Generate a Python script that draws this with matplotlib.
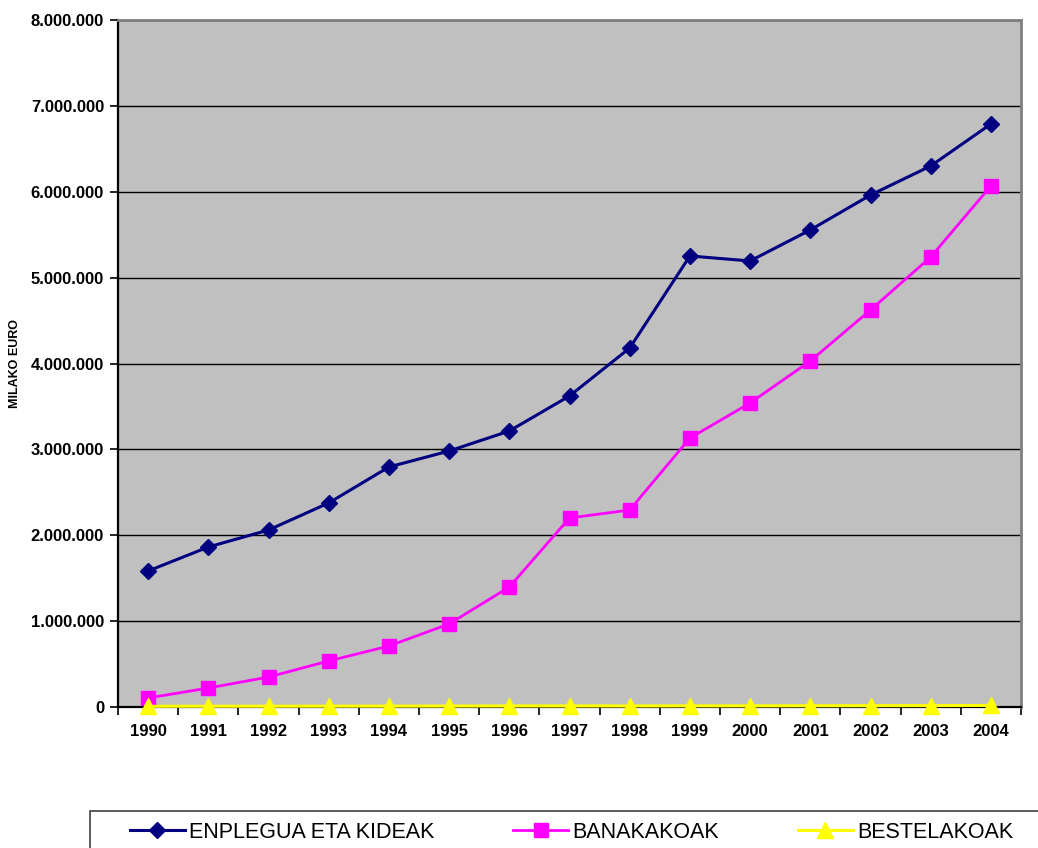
import matplotlib
matplotlib.use("Agg")
import matplotlib.pyplot as plt
from matplotlib.patches import Rectangle
from matplotlib.ticker import FixedLocator, FuncFormatter
from matplotlib.lines import Line2D

plt.rcParams['font.family'] = ['Liberation Sans', 'DejaVu Sans']

years = ["1990", "1991", "1992", "1993", "1994", "1995", "1996", "1997",
         "1998", "1999", "2000", "2001", "2002", "2003", "2004"]
enplegua = [1584000, 1863000, 2061000, 2376000, 2795000, 2981000, 3214000, 3622000,
            4180000, 5252000, 5194000, 5555000, 5962000, 6300000, 6789000]
banakakoak = [105000, 221000, 349000, 536000, 710000, 967000, 1397000, 2201000,
              2294000, 3132000, 3540000, 4029000, 4623000, 5240000, 6067000]
bestelakoak = [8000, 9000, 9000, 10000, 10000, 11000, 12000, 12000,
               12000, 13000, 13000, 14000, 15000, 16000, 18000]
series_names = ["ENPLEGUA ETA KIDEAK", "BANAKAKOAK", "BESTELAKOAK"]
y_ticks = [0, 1000000, 2000000, 3000000, 4000000, 5000000, 6000000, 7000000, 8000000]

W, H = 1038, 848
fig = plt.figure(figsize=(W / 100, H / 100), dpi=100)
ax = fig.add_axes([118 / W, 1 - 707 / H, (1021 - 118) / W, (707 - 20) / H])
ax.set_facecolor("#C0C0C0")

x = list(range(len(years)))
ax.plot(x, enplegua, color="#000080", lw=2.2, marker="D", ms=8, mfc="#000080",
        mec="#000080", label=series_names[0], zorder=4, clip_on=False)
ax.plot(x, banakakoak, color="#FF00FF", lw=2.0, marker="s", ms=10.5, mfc="#FF00FF",
        mec="#FF00FF", label=series_names[1], zorder=4, clip_on=False)
ax.plot(x, bestelakoak, color="#FFFF00", lw=2.2, marker="^", ms=11, mfc="#FFFF00",
        mec="#FFFF00", label=series_names[2], zorder=5, clip_on=False)

ax.set_xlim(-0.5, len(years) - 0.5)
ax.set_ylim(0, 8000000)

ax.yaxis.set_major_locator(FixedLocator(y_ticks))
ax.yaxis.set_major_formatter(FuncFormatter(lambda v, p: f"{int(v):,}".replace(",", ".")))
ax.grid(axis="y", color="black", lw=1.0, zorder=1)
ax.set_axisbelow(True)

ax.set_xticks(x)
ax.set_xticklabels(years)
ax.set_xticks([i + 0.5 for i in range(-1, len(years))], minor=True)
ax.tick_params(axis="x", which="major", length=0, pad=12)
ax.tick_params(axis="x", which="minor", length=6, width=1.2, direction="out", color="black")
ax.tick_params(axis="y", which="major", length=6, width=1.2, direction="out", pad=4)

for lbl in ax.get_xticklabels() + ax.get_yticklabels():
    lbl.set_fontweight("bold")
    lbl.set_fontsize(12)

for side in ("left", "bottom"):
    ax.spines[side].set_color("black")
    ax.spines[side].set_linewidth(1.6)
for side in ("top", "right"):
    ax.spines[side].set_color("#808080")
    ax.spines[side].set_linewidth(2.0)

fig.text(15 / W, 1 - 363 / H, "MILAKO EURO", rotation=90, ha="center", va="center",
         fontsize=9, fontweight="bold")

# legend frame running off the canvas edge
fig.patches.append(Rectangle((90 / W, -0.05), 1.0, 0.05 + (848 - 811) / H,
                             transform=fig.transFigure, fill=False,
                             edgecolor="#404040", lw=1.2))

handles = [
    Line2D([], [], color="#000080", lw=2.2, marker="D", ms=8, mfc="#000080", mec="#000080"),
    Line2D([], [], color="#FF00FF", lw=2.0, marker="s", ms=10.5, mfc="#FF00FF", mec="#FF00FF"),
    Line2D([], [], color="#FFFF00", lw=2.2, marker="^", ms=11, mfc="#FFFF00", mec="#FFFF00"),
]
fig.legend(handles, series_names, ncol=3, frameon=False, fontsize=15.5,
           loc="center left", bbox_to_anchor=(130 / W, 1 - 832 / H),
           handlelength=2.55, handletextpad=0.19, columnspacing=3.67,
           borderaxespad=0, borderpad=0)

fig.savefig("out.png", dpi=100)
